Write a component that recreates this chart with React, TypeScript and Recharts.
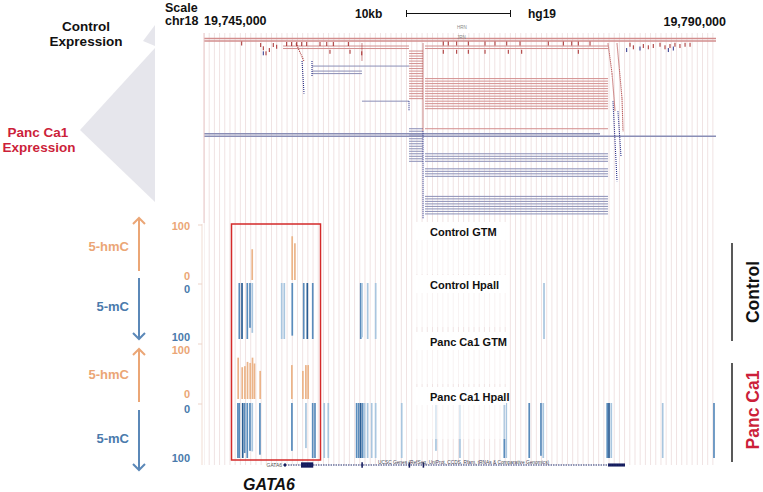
import React from 'react';
import {
  ComposedChart,
  BarChart,
  Bar,
  Scatter,
  Line,
  XAxis,
  YAxis,
  ReferenceLine,
  ReferenceArea
} from 'recharts';

const FONT = '"Liberation Sans", Arial, Helvetica, sans-serif';

// chr18 window shown in the browser
const X_MIN = 19744000;
const X_MAX = 19793300;
// light guide lines every 500 bp
const GUIDE_TICKS = Array.from({ length: Math.floor((X_MAX - X_MIN) / 500) + 1 }, (_, i) => X_MIN + i * 500);

// expression reads, packed into rows (row 0 at top)
const CONTROL_READS = [
  { start: 19744000, end: 19793300, rows: [1, 2] },
  { start: 19751610, end: 19763740, rows: [4, 5] },
  { start: 19763740, end: 19765090, rows: [6, 7, 8, 9, 10, 11, 12, 13, 14, 15, 16, 17, 18, 19, 20, 21, 22, 23, 24, 25] },
  { start: 19765280, end: 19782900, rows: [4, 5] },
  { start: 19765280, end: 19782900, rows: [17, 18, 19, 20, 21, 22, 23, 24, 25, 26, 27, 28, 29, 37] }
];

const PANC_READS = [
  { start: 19744000, end: 19782130, rows: [39] },
  { start: 19744000, end: 19793300, rows: [40] },
  { start: 19754400, end: 19763740, rows: [12] },
  { start: 19754400, end: 19759210, rows: [14, 15] },
  { start: 19759210, end: 19763740, rows: [26] },
  { start: 19763740, end: 19765090, rows: [37, 38, 39, 40, 41, 42, 43, 44, 45, 46, 47, 48, 49, 50] },
  { start: 19765280, end: 19782900, rows: [47, 48, 49, 50, 53, 54, 55, 56, 64, 65, 66, 67, 68, 69, 70, 71] }
];

// spliced / stacked read trails
const CONTROL_LINKS = [
  { x1: 19765090, r1: 3, x2: 19765090, r2: 38 },
  { x1: 19759210, r1: 3, x2: 19759210, r2: 10 },
  { x1: 19752860, r1: 3, x2: 19753630, r2: 10 },
  { x1: 19782900, r1: 3, x2: 19783290, r2: 15 },
  { x1: 19783290, r1: 15, x2: 19783580, r2: 30 },
  { x1: 19783770, r1: 3, x2: 19784250, r2: 25 },
  { x1: 19784250, r1: 25, x2: 19784350, r2: 38 }
];

const PANC_LINKS = [
  { x1: 19765090, r1: 38, x2: 19765090, r2: 73 },
  { x1: 19753440, r1: 10, x2: 19753630, r2: 23 },
  { x1: 19754400, r1: 10, x2: 19754400, r2: 16 },
  { x1: 19763740, r1: 26, x2: 19763740, r2: 30 },
  { x1: 19783380, r1: 26, x2: 19783770, r2: 58 },
  { x1: 19783860, r1: 30, x2: 19784150, r2: 48 }
];

const CONTROL_FRAGMENTS = [
  { pos: 19747630, row: 3 }, { pos: 19749460, row: 3.6 }, { pos: 19749710, row: 4.9 },
  { pos: 19749970, row: 6.9 }, { pos: 19750290, row: 5.6 }, { pos: 19750670, row: 3.6 },
  { pos: 19751000, row: 4.3 }, { pos: 19751960, row: 3.2 }, { pos: 19752440, row: 3.2 },
  { pos: 19752930, row: 3.2 }, { pos: 19753410, row: 3.2 }, { pos: 19753890, row: 3.2 },
  { pos: 19755170, row: 3.2 }, { pos: 19755820, row: 3.2 }, { pos: 19756450, row: 3.2 },
  { pos: 19757900, row: 3.2 }, { pos: 19756130, row: 6.3 }, { pos: 19758060, row: 6.3 },
  { pos: 19759190, row: 6.9 }, { pos: 19767040, row: 3 }, { pos: 19767520, row: 3 },
  { pos: 19768330, row: 3 }, { pos: 19769450, row: 3 }, { pos: 19771060, row: 3 },
  { pos: 19772020, row: 3 }, { pos: 19773150, row: 3 }, { pos: 19774430, row: 3 },
  { pos: 19777150, row: 3 }, { pos: 19778600, row: 3 }, { pos: 19779410, row: 3 },
  { pos: 19780040, row: 3 }, { pos: 19781170, row: 3 }, { pos: 19767040, row: 6.3 },
  { pos: 19768330, row: 6.3 }, { pos: 19769450, row: 6.3 }, { pos: 19771060, row: 6.3 },
  { pos: 19773300, row: 6.3 }, { pos: 19774590, row: 6.3 }, { pos: 19780040, row: 6.3 },
  { pos: 19785020, row: 3.5 }, { pos: 19785340, row: 4.5 }, { pos: 19786300, row: 4 },
  { pos: 19786780, row: 4.5 }, { pos: 19787260, row: 4 }, { pos: 19787910, row: 3.5 },
  { pos: 19788390, row: 4.5 }, { pos: 19788870, row: 4 }, { pos: 19789350, row: 3.5 },
  { pos: 19789830, row: 4 }, { pos: 19790320, row: 3.5 }, { pos: 19790800, row: 3.5 }
];

const PANC_FRAGMENTS = [
  { pos: 19749710, row: 6.9 }, { pos: 19784700, row: 5.6 }, { pos: 19785980, row: 5 },
  { pos: 19788710, row: 5.6 }, { pos: 19789190, row: 5 }
];

// methylation tracks: percent at each CpG site, depth = read coverage level
const CONTROL_GTM = [
  { pos: 19748650, value: 57 },
  { pos: 19752500, value: 81 },
  { pos: 19752760, value: 68 }
];

const CONTROL_HPAII = [
  { pos: 19747400, value: 100, depth: 2 }, { pos: 19747660, value: 100, depth: 3 },
  { pos: 19748170, value: 100, depth: 2 }, { pos: 19748430, value: 80, depth: 2 },
  { pos: 19748650, value: 89, depth: 1 }, { pos: 19751480, value: 100, depth: 1 },
  { pos: 19751730, value: 100, depth: 1 }, { pos: 19752500, value: 94, depth: 2 },
  { pos: 19753600, value: 100, depth: 2 }, { pos: 19753950, value: 100, depth: 3 },
  { pos: 19754470, value: 100, depth: 2 }, { pos: 19759090, value: 100, depth: 2 },
  { pos: 19759210, value: 97, depth: 1 }, { pos: 19759760, value: 100, depth: 1 },
  { pos: 19760530, value: 100, depth: 1 }, { pos: 19776740, value: 100, depth: 1 }
];

const PANC_GTM = [
  { pos: 19747270, value: 78 }, { pos: 19747660, value: 60 }, { pos: 19747920, value: 62 },
  { pos: 19748170, value: 70 }, { pos: 19748430, value: 68 }, { pos: 19748650, value: 78 },
  { pos: 19748840, value: 67 }, { pos: 19749390, value: 53 }, { pos: 19752440, value: 64 },
  { pos: 19753500, value: 53 }, { pos: 19753790, value: 64 }, { pos: 19754010, value: 64 }
];

const PANC_HPAII = [
  { pos: 19747270, value: 100, depth: 2 }, { pos: 19747400, value: 100, depth: 2 },
  { pos: 19747730, value: 100, depth: 3 }, { pos: 19747920, value: 91, depth: 2 },
  { pos: 19748170, value: 100, depth: 2 }, { pos: 19748430, value: 87, depth: 2 },
  { pos: 19748650, value: 88, depth: 1 }, { pos: 19749390, value: 94, depth: 2 },
  { pos: 19752470, value: 87, depth: 2 }, { pos: 19753820, value: 82, depth: 1 },
  { pos: 19754470, value: 100, depth: 2 }, { pos: 19754690, value: 100, depth: 2 },
  { pos: 19755580, value: 100, depth: 1 }, { pos: 19755970, value: 100, depth: 1 },
  { pos: 19758700, value: 100, depth: 2 }, { pos: 19758900, value: 100, depth: 2 },
  { pos: 19759090, value: 100, depth: 3 }, { pos: 19759280, value: 100, depth: 2 },
  { pos: 19759470, value: 100, depth: 1 }, { pos: 19759760, value: 100, depth: 1 },
  { pos: 19760150, value: 100, depth: 1 }, { pos: 19760530, value: 100, depth: 1 },
  { pos: 19763040, value: 100, depth: 1 }, { pos: 19766340, value: 87, depth: 1 },
  { pos: 19768650, value: 100, depth: 1 }, { pos: 19772920, value: 100, depth: 2 },
  { pos: 19773110, value: 100, depth: 1 }, { pos: 19775320, value: 100, depth: 2 },
  { pos: 19776450, value: 96, depth: 2 }, { pos: 19776670, value: 100, depth: 1 },
  { pos: 19782830, value: 100, depth: 2 }, { pos: 19783000, value: 100, depth: 3 },
  { pos: 19783220, value: 100, depth: 1 }, { pos: 19788170, value: 100, depth: 1 },
  { pos: 19793110, value: 100, depth: 2 }
];

// GATA6 gene model (UCSC Genes)
const GENE_SPAN = [
  { pos: 19751610, y: 0 },
  { pos: 19784540, y: 0 }
];
const GENE_EXONS = [
  { start: 19751700, end: 19751900, kind: 'thin' },
  { start: 19753340, end: 19754520, kind: 'thick' },
  { start: 19759150, end: 19759300, kind: 'thick' },
  { start: 19763700, end: 19763850, kind: 'thick' },
  { start: 19765050, end: 19765200, kind: 'thick' },
  { start: 19782900, end: 19784540, kind: 'thin' }
];

const ORANGE = '#ebb489';
const BLUE_BY_DEPTH: Record<number, string> = { 1: '#a9c6df', 2: '#5a8cbc', 3: '#2b5d93' };
const RED_READ = '#d28e8e';
const BLUE_READ = '#8a8eb6';

const ROW_MIN = -1.2;
const ROW_MAX = 171.2;

const ThinBar = (props: any) => {
  const { x, y, width, height, payload } = props;
  if (x == null || y == null || height == null) return null;
  const cx = x + (width || 0) / 2;
  const y0 = height < 0 ? y + height : y;
  const fill = payload && payload.depth ? BLUE_BY_DEPTH[payload.depth] : ORANGE;
  return <rect x={cx - 0.85} y={y0} width={1.7} height={Math.abs(height)} fill={fill} />;
};

const fragmentShape = (color: string) => (props: any) => {
  const { cx, cy } = props;
  if (cx == null || cy == null) return null;
  return <line x1={cx} x2={cx} y1={cy - 2} y2={cy + 2} stroke={color} strokeWidth={1} />;
};

interface TrackProps {
  data: { pos: number; value: number; depth?: number }[];
  top: number;
  height: number;
  marginTop: number;
  marginBottom: number;
  reversed?: boolean;
}

const Track: React.FC<TrackProps> = ({ data, top, height, marginTop, marginBottom, reversed }) => (
  <div style={{ position: 'absolute', left: 204, top }}>
    <BarChart
      width={512}
      height={height}
      data={data}
      margin={{ top: marginTop, right: 0, bottom: marginBottom, left: 0 }}
    >
      <XAxis type="number" dataKey="pos" domain={[X_MIN, X_MAX]} allowDataOverflow hide />
      <YAxis type="number" domain={[0, 100]} reversed={reversed} hide />
      <Bar dataKey="value" isAnimationActive={false} shape={ThinBar} />
    </BarChart>
  </div>
);

const LabelBox = ({ y, text }: { y: number; text: string }) => (
  <g>
    <rect x={416} y={y - 10} width={90} height={18} fill="#fff" opacity={0.95} />
    <rect x={416} y={y + 8} width={90} height={34} fill="#fff" opacity={0.55} />
    <text x={430} y={y + 4} fontSize={11} fontWeight="bold" fill="#111">{text}</text>
  </g>
);

const Arrow = ({ from, to, color }: { from: number; to: number; color: string }) => {
  const d = to < from ? 6 : -6;
  return (
    <g stroke={color} strokeWidth={2} fill="none">
      <line x1={139} x2={139} y1={from} y2={to} />
      <polyline points={`133,${to + d} 139,${to} 145,${to + d}`} />
    </g>
  );
};

const App: React.FC = () => {
  return (
    <div style={{ position: 'absolute', left: 0, top: 0, width: 763, height: 492, background: '#fff', fontFamily: FONT }}>
      {/* expression reads + guide lines */}
      <div style={{ position: 'absolute', left: 204, top: 33 }}>
        <ComposedChart width={512} height={432} margin={{ top: 0, right: 0, bottom: 0, left: 0 }}>
          <XAxis type="number" dataKey="pos" domain={[X_MIN, X_MAX]} allowDataOverflow hide />
          <YAxis type="number" dataKey="row" domain={[ROW_MIN, ROW_MAX]} reversed hide allowDataOverflow />
          {GUIDE_TICKS.map((t) => (
            <ReferenceLine key={`g${t}`} x={t} stroke="#f0e3e3" strokeWidth={1} ifOverflow="visible" />
          ))}
          {CONTROL_READS.flatMap((r, i) =>
            r.rows.map((row) => (
              <ReferenceLine
                key={`c${i}-${row}`}
                segment={[{ x: r.start, y: row }, { x: r.end, y: row }]}
                stroke={RED_READ}
                strokeWidth={row <= 2 ? 1.4 : 1}
                ifOverflow="visible"
              />
            ))
          )}
          {PANC_READS.flatMap((r, i) =>
            r.rows.map((row) => (
              <ReferenceLine
                key={`p${i}-${row}`}
                segment={[{ x: r.start, y: row }, { x: r.end, y: row }]}
                stroke={BLUE_READ}
                strokeWidth={row >= 39 && row <= 40 ? 1.4 : 1}
                ifOverflow="visible"
              />
            ))
          )}
          {CONTROL_LINKS.map((l, i) => (
            <ReferenceLine
              key={`cl${i}`}
              segment={[{ x: l.x1, y: l.r1 }, { x: l.x2, y: l.r2 }]}
              stroke="#a52a2a"
              strokeWidth={1.1}
              strokeDasharray="1 1"
              ifOverflow="visible"
            />
          ))}
          {PANC_LINKS.map((l, i) => (
            <ReferenceLine
              key={`pl${i}`}
              segment={[{ x: l.x1, y: l.r1 }, { x: l.x2, y: l.r2 }]}
              stroke="#2a3088"
              strokeWidth={1.1}
              strokeDasharray="1 1"
              ifOverflow="visible"
            />
          ))}
          <Scatter data={CONTROL_FRAGMENTS} dataKey="row" isAnimationActive={false} shape={fragmentShape('#a52a2a')} />
          <Scatter data={PANC_FRAGMENTS} dataKey="row" isAnimationActive={false} shape={fragmentShape('#2a3088')} />
        </ComposedChart>
      </div>

      {/* methylation tracks */}
      <Track data={CONTROL_GTM} top={224} height={60} marginTop={2} marginBottom={4} />
      <Track data={CONTROL_HPAII} top={283} height={61} marginTop={0} marginBottom={5} reversed />
      <Track data={PANC_GTM} top={344} height={60} marginTop={2} marginBottom={5} />
      <Track data={PANC_HPAII} top={403} height={60} marginTop={0} marginBottom={5} reversed />

      {/* gene model */}
      <div style={{ position: 'absolute', left: 204, top: 458 }}>
        <ComposedChart width={512} height={14} data={GENE_SPAN} margin={{ top: 0, right: 0, bottom: 0, left: 0 }}>
          <XAxis type="number" dataKey="pos" domain={[X_MIN, X_MAX]} allowDataOverflow hide />
          <YAxis type="number" domain={[-1, 1]} hide />
          <Line dataKey="y" stroke="#1f2a6b" strokeWidth={1} strokeDasharray="1.5 1" dot={false} isAnimationActive={false} />
          {GENE_EXONS.map((e, i) => (
            <ReferenceArea
              key={i}
              x1={e.start}
              x2={e.end}
              y1={e.kind === 'thick' ? -0.38 : -0.22}
              y2={e.kind === 'thick' ? 0.38 : 0.22}
              fill="#141a5c"
              fillOpacity={1}
              stroke="none"
              ifOverflow="visible"
            />
          ))}
        </ComposedChart>
      </div>

      {/* annotations */}
      <svg width={763} height={492} style={{ position: 'absolute', left: 0, top: 0, pointerEvents: 'none' }} fontFamily={FONT}>
        <polygon points="143,41 155,25 155,46" fill="#e6e6ec" />
        <polygon points="155,48 80,130 155,202" fill="#e6e6ec" />

        <text x={86} y={31} fontSize={13.5} fontWeight="bold" textAnchor="middle" fill="#111">Control</text>
        <text x={86} y={45.5} fontSize={13.5} fontWeight="bold" textAnchor="middle" fill="#111">Expression</text>
        <text x={38} y={136.5} fontSize={13.5} fontWeight="bold" textAnchor="middle" fill="#cc1f3a">Panc Ca1</text>
        <text x={39} y={151.5} fontSize={13.5} fontWeight="bold" textAnchor="middle" fill="#cc1f3a">Expression</text>

        <text x={165} y={11.5} fontSize={12.5} fontWeight="bold" fill="#111">Scale</text>
        <text x={165} y={25} fontSize={12.5} fontWeight="bold" fill="#111">chr18</text>
        <text x={204} y={25} fontSize={12.5} fontWeight="bold" fill="#111">19,745,000</text>
        <text x={355} y={17.5} fontSize={12} fontWeight="bold" fill="#111">10kb</text>
        <g stroke="#111" strokeWidth={1}>
          <line x1={406.5} x2={510.5} y1={13.5} y2={13.5} />
          <line x1={406.5} x2={406.5} y1={10} y2={17} />
          <line x1={510.5} x2={510.5} y1={10} y2={17} />
        </g>
        <text x={528} y={17.5} fontSize={12} fontWeight="bold" fill="#111">hg19</text>
        <text x={726} y={25.5} fontSize={12.5} fontWeight="bold" textAnchor="end" fill="#111">19,790,000</text>
        <text x={457} y={29} fontSize={4.5} fill="#888">HRN</text>
        <text x={457} y={39} fontSize={4.5} fill="#888">JRN</text>
        <line x1={204} x2={204} y1={33} y2={223} stroke="#e8c6c6" strokeWidth={1} />

        {/* left axis of the tracks */}
        <line x1={202} x2={202} y1={224} y2={465} stroke="#f1ddd3" strokeWidth={1} />
        {[225, 284, 344, 404].map((y) => (
          <line key={y} x1={198} x2={202} y1={y} y2={y} stroke="#ecd3c8" strokeWidth={1} />
        ))}
        <g fontSize={11} fontWeight="bold" textAnchor="end">
          <text x={190} y={230} fill="#eba676">100</text>
          <text x={190} y={280} fill="#eba676">0</text>
          <text x={190} y={293} fill="#4a7aac">0</text>
          <text x={190} y={341} fill="#4a7aac">100</text>
          <text x={190} y={354} fill="#eba676">100</text>
          <text x={190} y={398} fill="#eba676">0</text>
          <text x={190} y={413} fill="#4a7aac">0</text>
          <text x={190} y={462} fill="#4a7aac">100</text>
        </g>
        <g fontSize={13} fontWeight="bold" textAnchor="end">
          <text x={129} y={250.5} fill="#eba676">5-hmC</text>
          <text x={129} y={311} fill="#4a7aac">5-mC</text>
          <text x={129} y={378.5} fill="#eba676">5-hmC</text>
          <text x={129} y={442.5} fill="#4a7aac">5-mC</text>
        </g>
        <Arrow from={271} to={218} color="#eba676" />
        <Arrow from={278} to={339} color="#5b88b8" />
        <Arrow from={402} to={349} color="#eba676" />
        <Arrow from={410} to={470} color="#5b88b8" />

        <LabelBox y={232} text="Control GTM" />
        <LabelBox y={285} text="Control Hpall" />
        <LabelBox y={342} text="Panc Ca1 GTM" />
        <LabelBox y={397} text="Panc Ca1 Hpall" />

        <rect x={231.5} y={224} width={89} height={236} fill="none" stroke="#d42a2a" strokeWidth={1.5} />

        <text x={266.5} y={467} fontSize={5} fill="#555">GATA6</text>
        <text x={378} y={463.5} fontSize={4.8} fill="#445">UCSC Genes (RefSeq, UniProt, CCDS, Rfam, tRNAs &amp; Comparative Genomics)</text>
        <text x={269} y={490} fontSize={16} fontWeight="bold" fontStyle="italic" textAnchor="middle" fill="#111">GATA6</text>

        <line x1={732} x2={732} y1={243} y2={341} stroke="#222" strokeWidth={1.5} />
        <line x1={732} x2={732} y1={363} y2={462} stroke="#222" strokeWidth={1.5} />
        <text x={759} y={292} transform="rotate(-90 759 292)" fontSize={17.5} fontWeight="bold" textAnchor="middle" fill="#111">Control</text>
        <text x={759} y={410} transform="rotate(-90 759 410)" fontSize={17.5} fontWeight="bold" textAnchor="middle" fill="#cc1f3a">Panc Ca1</text>
      </svg>
    </div>
  );
};

export default App;
